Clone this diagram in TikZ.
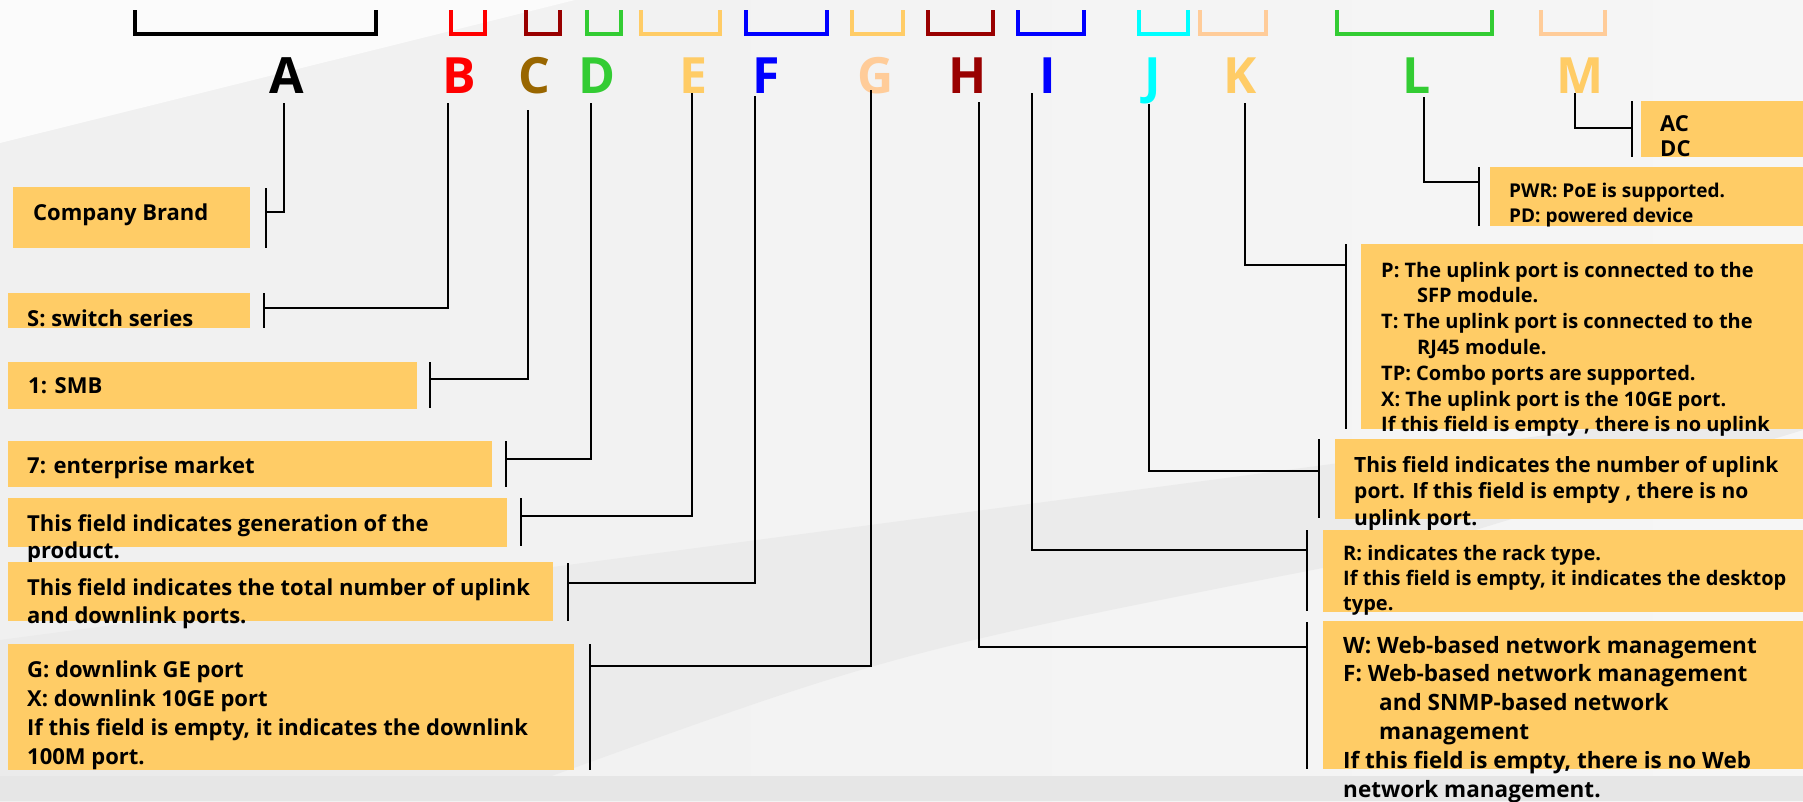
\documentclass[tikz,border=0pt]{standalone}
\usepackage{fontspec}
\setmainfont{Open Sans}
\definecolor{boxc}{HTML}{FFCC66}
\definecolor{cRed}{HTML}{FF0000}
\definecolor{cDred}{HTML}{990000}
\definecolor{cBrown}{HTML}{996600}
\definecolor{cGreen}{HTML}{33CC33}
\definecolor{cOrange}{HTML}{FFCC66}
\definecolor{cBlue}{HTML}{0000FF}
\definecolor{cPeach}{HTML}{FFCC99}
\definecolor{cCyan}{HTML}{00FFFF}
\definecolor{bgA}{HTML}{F6F6F6}
\definecolor{bgB}{HTML}{FBFBFB}
\definecolor{bgC}{HTML}{EBEBEB}
\definecolor{bgD}{HTML}{E6E6E6}
\definecolor{bgE}{HTML}{F0F0F0}
\newcommand{\mylines}[2]{\vtop{\baselineskip=#1\relax #2}}
\newcommand{\myl}[1]{\hbox{#1}}
\newcommand{\myli}[1]{\hbox{\kern36pt #1}}
\begin{document}
\begin{tikzpicture}[x=1pt,y=-1pt,
  box/.style={fill=boxc, draw=none, inner sep=0pt, anchor=north west},
  txt/.style={anchor=base west, inner sep=0pt, font=\fontsize{22}{26}\selectfont\bfseries, text=black},
  txts/.style={txt, font=\fontsize{#1}{26}\selectfont\bfseries},
  letter/.style={anchor=base, inner sep=0pt, font=\fontsize{50}{50}\selectfont\bfseries},
  brk/.style={line width=4pt},
  conn/.style={line width=2pt, black},
  bar/.style={line width=2pt, black}]
\useasboundingbox (0,0) rectangle (1803,801);
% background
\shade[left color=bgE, right color=bgA] (0,0) rectangle (1803,801);
\fill[bgB] (0,0) -- (575,0) -- (0,143) -- cycle;
\fill[bgC] (0,640) -- (1400,455) -- (1803,400) -- (1803,430) -- (1400,553) .. controls (900,650) .. (546,778) -- (0,778) -- cycle;
\fill[bgD] (0,776) rectangle (1803,801);

% top brackets
\draw[brk, black]   (135,10) -- (135,34) -- (376,34) -- (376,10);
\draw[brk, cRed]    (451,10) -- (451,34) -- (485,34) -- (485,10);
\draw[brk, cDred]   (526,10) -- (526,34) -- (560,34) -- (560,10);
\draw[brk, cGreen]  (587,10) -- (587,34) -- (621,34) -- (621,10);
\draw[brk, cOrange] (641,10) -- (641,34) -- (720,34) -- (720,10);
\draw[brk, cBlue]   (746,10) -- (746,34) -- (827,34) -- (827,10);
\draw[brk, cOrange] (852,10) -- (852,34) -- (903,34) -- (903,10);
\draw[brk, cDred]   (928,10) -- (928,34) -- (993,34) -- (993,10);
\draw[brk, cBlue]   (1018,10) -- (1018,34) -- (1084,34) -- (1084,10);
\draw[brk, cCyan]   (1139,10) -- (1139,34) -- (1188,34) -- (1188,10);
\draw[brk, cPeach]  (1200,10) -- (1200,34) -- (1266,34) -- (1266,10);
\draw[brk, cGreen]  (1337,10) -- (1337,34) -- (1492,34) -- (1492,10);
\draw[brk, cPeach]  (1541,10) -- (1541,34) -- (1605,34) -- (1605,10);

% letters
\node[letter, text=black]   (lA) at (287,93) {A};
\node[letter, text=cRed]    (lB) at (459,93) {B};
\node[letter, text=cBrown]  (lC) at (534,93) {C};
\node[letter, text=cGreen]  (lD) at (597,93) {D};
\node[letter, text=cOrange] (lE) at (693,93) {E};
\node[letter, text=cBlue]   (lF) at (766,93) {F};
\node[letter, text=cPeach]  (lG) at (876,93) {G};
\node[letter, text=cDred]   (lH) at (968,93) {H};
\node[letter, text=cBlue]   (lI) at (1048,93) {I};
\node[letter, text=cCyan]   (lJ) at (1153,93) {J};
\node[letter, text=cOrange] (lK) at (1240,93) {K};
\node[letter, text=cGreen]  (lL) at (1417,93) {L};
\node[letter, text=cOrange] (lM) at (1580,93) {M};

% left boxes
\node[box, minimum width=237pt, minimum height=61pt] (bA) at (13,187) {};
\node[txt] (xA) at (33,220) {Company Brand};
\node[box, minimum width=242pt, minimum height=35pt] (bB) at (8,293) {};
\node[txt] (xB) at (27,326) {S: switch series};
\node[box, minimum width=409pt, minimum height=47pt] (bC) at (8,362) {};
\node[txt] (xC) at (28,393) {1: SMB};
\node[box, minimum width=484pt, minimum height=46pt] (bD) at (8,441) {};
\node[txt] (xD) at (27,473) {7: enterprise market};
\node[box, minimum width=499pt, minimum height=49pt] (bE) at (8,498) {};
\node[txt] (xE) at (27,531) {\mylines{27pt}{\myl{This field indicates generation of the}\myl{product.}}};
\node[box, minimum width=545pt, minimum height=59pt] (bF) at (8,562) {};
\node[txt] (xF) at (27,595) {\mylines{28pt}{\myl{This field indicates the total number of uplink}\myl{and downlink ports.}}};
\node[box, minimum width=566pt, minimum height=126pt] (bG) at (8,644) {};
\node[txt] (xG) at (27,677) {\mylines{29pt}{\myl{G: downlink GE port}\myl{X: downlink 10GE port}\myl{If this field is empty, it indicates the downlink}\myl{100M port.}}};

% right boxes
\node[box, minimum width=162pt, minimum height=56pt] (bM) at (1641,101) {};
\node[txt] (xM) at (1660,131) {\mylines{25pt}{\myl{AC}\myl{DC}}};
\node[box, minimum width=313pt, minimum height=59pt] (bL) at (1490,167) {};
\node[txts=19] (xL) at (1509,197) {\mylines{25pt}{\myl{PWR: PoE is supported.}\myl{PD: powered device}}};
\node[box, minimum width=442pt, minimum height=185pt] (bK) at (1361,244) {};
\node[txts=20] (xK) at (1381,277) {\mylines{25.8pt}{\myl{P: The uplink port is connected to the}\myli{SFP module.}\myl{T: The uplink port is connected to the}\myli{RJ45 module.}\myl{TP: Combo ports are supported.}\myl{X: The uplink port is the 10GE port.}\myl{If this field is empty , there is no uplink}}};
\node[box, minimum width=468pt, minimum height=80pt] (bJ) at (1335,439) {};
\node[txts=21] (xJ) at (1354,472) {\mylines{26.5pt}{\myl{This field indicates the number of uplink}\myl{port. If this field is empty , there is no}\myl{uplink port.}}};
\node[box, minimum width=480pt, minimum height=82pt] (bI) at (1323,530) {};
\node[txts=20] (xI) at (1343,560) {\mylines{25pt}{\myl{R: indicates the rack type.}\myl{If this field is empty, it indicates the desktop}\myl{type.}}};
\node[box, minimum width=480pt, minimum height=148pt] (bH) at (1323,621) {};
\node[txts=22.5] (xH) at (1343,653) {\mylines{28.8pt}{\myl{W: Web-based network management}\myl{F: Web-based network management}\myli{and SNMP-based network}\myli{management}\myl{If this field is empty, there is no Web}\myl{network management.}}};

% connector coordinates
\coordinate (sA) at (284,103);  \coordinate (jA) at (266,212);
\coordinate (sB) at (448,103);  \coordinate (jB) at (264,308);
\coordinate (sC) at (528,110);  \coordinate (jC) at (430,379);
\coordinate (sD) at (591,103);  \coordinate (jD) at (506,459);
\coordinate (sE) at (692,93);   \coordinate (jE) at (521,516);
\coordinate (sF) at (755,96);   \coordinate (jF) at (568,583);
\coordinate (sG) at (871,90);   \coordinate (jG) at (590,666);
\coordinate (sH) at (979,102);  \coordinate (jH) at (1307,647);
\coordinate (sI) at (1032,93);  \coordinate (jI) at (1307,550);
\coordinate (sJ) at (1149,104); \coordinate (jJ) at (1319,471);
\coordinate (sK) at (1245,103); \coordinate (jK) at (1346,265);
\coordinate (sL) at (1424,97);  \coordinate (jL) at (1479,182);
\coordinate (sM) at (1575,93);  \coordinate (jM) at (1632,128);
% bar ends
\coordinate (tA) at (266,188);  \coordinate (uA) at (266,248);
\coordinate (tB) at (264,293);  \coordinate (uB) at (264,328);
\coordinate (tC) at (430,362);  \coordinate (uC) at (430,408);
\coordinate (tD) at (506,441);  \coordinate (uD) at (506,487);
\coordinate (tE) at (521,498);  \coordinate (uE) at (521,546);
\coordinate (tF) at (568,563);  \coordinate (uF) at (568,621);
\coordinate (tG) at (590,644);  \coordinate (uG) at (590,770);
\coordinate (tH) at (1307,622); \coordinate (uH) at (1307,769);
\coordinate (tI) at (1307,530); \coordinate (uI) at (1307,611);
\coordinate (tJ) at (1319,439); \coordinate (uJ) at (1319,518);
\coordinate (tK) at (1346,244); \coordinate (uK) at (1346,429);
\coordinate (tL) at (1479,167); \coordinate (uL) at (1479,226);
\coordinate (tM) at (1632,101); \coordinate (uM) at (1632,157);

\foreach \k in {A,B,C,D,E,F,G,H,I,J,K,L,M}{
  \draw[conn] (s\k) |- (j\k);
  \draw[bar] (t\k) -- (u\k);
}
\end{tikzpicture}
\end{document}
